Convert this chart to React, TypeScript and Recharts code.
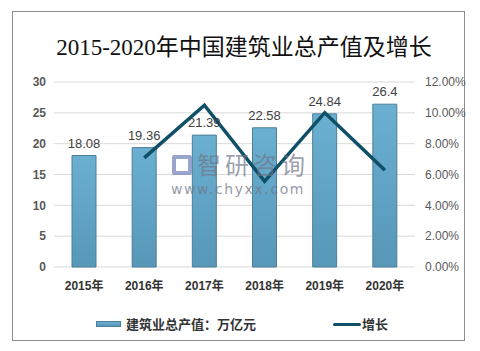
import React from "react";
import {
  ComposedChart,
  Bar,
  Line,
  XAxis,
  YAxis,
  CartesianGrid,
  LabelList,
} from "recharts";

const years = ["2015年", "2016年", "2017年", "2018年", "2019年", "2020年"];
const outputValues = [18.08, 19.36, 21.39, 22.58, 24.84, 26.4];
const growthRates = [null, 7.08, 10.49, 5.56, 10.01, 6.28];
const leftTicks = [0, 5, 10, 15, 20, 25, 30];
const rightTicks = [0, 2, 4, 6, 8, 10, 12];

const chartData = years.map((year, i) => ({
  year,
  output: outputValues[i],
  growth: growthRates[i],
}));

const cjkSans = '"Liberation Sans", "Noto Sans CJK SC", sans-serif';

export default function App() {
  return (
    <div style={{ position: "absolute", left: 0, top: 0, width: 480, height: 351, background: "#fff" }}>
      <div
        style={{
          position: "absolute",
          left: 12,
          top: 11,
          width: 453,
          height: 330,
          border: "1px solid #8c8c8c",
          boxSizing: "border-box",
        }}
      />
      <div
        style={{
          position: "absolute",
          left: 0,
          width: 488,
          top: 33,
          textAlign: "center",
          fontFamily: '"Liberation Serif", "Noto Sans CJK SC", serif',
          fontSize: 23,
          lineHeight: "30px",
          color: "#111",
        }}
      >
        2015-2020年中国建筑业总产值及增长
      </div>

      <div style={{ position: "absolute", left: 0, top: 0 }}>
        <ComposedChart
          width={480}
          height={351}
          data={chartData}
          margin={{ top: 82, right: 15, bottom: 54, left: 14 }}
        >
          <defs>
            <linearGradient id="barFill" x1="0" y1="0" x2="0" y2="1">
              <stop offset="0%" stopColor="#6bb0d1" />
              <stop offset="100%" stopColor="#5797b8" />
            </linearGradient>
          </defs>
          <CartesianGrid vertical={false} stroke="#d9d9d9" yAxisId="left" />
          <XAxis
            dataKey="year"
            axisLine={false}
            tickLine={false}
            tickMargin={8}
            height={30}
            tick={{ fontSize: 12, fontWeight: "bold", fill: "#333", fontFamily: cjkSans }}
          />
          <YAxis
            yAxisId="left"
            width={40}
            domain={[0, 30]}
            ticks={leftTicks}
            axisLine={false}
            tickLine={false}
            tick={{ fontSize: 12, fontWeight: "bold", fill: "#595959", fontFamily: cjkSans }}
          />
          <YAxis
            yAxisId="right"
            orientation="right"
            width={50}
            domain={[0, 12]}
            ticks={rightTicks}
            axisLine={false}
            tickLine={false}
            tickMargin={4}
            tickFormatter={(v: number) => `${v.toFixed(2)}%`}
            tick={{ fontSize: 12, fill: "#595959", fontFamily: cjkSans }}
          />
          <Bar
            yAxisId="left"
            dataKey="output"
            barSize={24}
            fill="url(#barFill)"
            stroke="#4d7f99"
            strokeWidth={1}
            isAnimationActive={false}
          >
            <LabelList
              dataKey="output"
              position="top"
              offset={8}
              style={{ fontSize: 13, fill: "#404040", fontFamily: cjkSans }}
            />
          </Bar>
          <Line
            yAxisId="right"
            dataKey="growth"
            type="linear"
            stroke="#0f4f68"
            strokeWidth={3.5}
            dot={false}
            activeDot={false}
            isAnimationActive={false}
          />
        </ComposedChart>
      </div>

      {/* watermark */}
      <div
        style={{
          position: "absolute",
          left: 172,
          top: 155,
          width: 20,
          height: 20,
          border: "4px solid rgba(120,135,190,0.75)",
          boxSizing: "border-box",
          borderRadius: 2,
        }}
      />
      <div
        style={{
          position: "absolute",
          left: 197,
          top: 151,
          fontFamily: '"Noto Sans CJK SC", sans-serif',
          fontSize: 24,
          lineHeight: "26px",
          letterSpacing: 4,
          color: "rgba(110,118,135,0.7)",
        }}
      >
        智研咨询
      </div>
      <div
        style={{
          position: "absolute",
          left: 171,
          top: 181,
          fontFamily: '"DejaVu Sans", sans-serif',
          fontSize: 14,
          lineHeight: "16px",
          letterSpacing: 1.6,
          color: "rgba(110,118,135,0.75)",
        }}
      >
        www.chyxx.com
      </div>

      {/* legend */}
      <div
        style={{
          position: "absolute",
          left: 96,
          top: 321,
          width: 25,
          height: 6,
          background: "linear-gradient(#6bb0d1, #5797b8)",
          border: "1px solid #4d7f99",
          boxSizing: "border-box",
        }}
      />
      <div
        style={{
          position: "absolute",
          left: 126,
          top: 316,
          fontFamily: cjkSans,
          fontSize: 13,
          fontWeight: "bold",
          lineHeight: "18px",
          color: "#333",
        }}
      >
        建筑业总产值：万亿元
      </div>
      <div
        style={{
          position: "absolute",
          left: 333,
          top: 323,
          width: 28,
          height: 3,
          background: "#0f4f68",
          borderRadius: 2,
        }}
      />
      <div
        style={{
          position: "absolute",
          left: 362,
          top: 316,
          fontFamily: cjkSans,
          fontSize: 13,
          fontWeight: "bold",
          lineHeight: "18px",
          color: "#333",
        }}
      >
        增长
      </div>
    </div>
  );
}
